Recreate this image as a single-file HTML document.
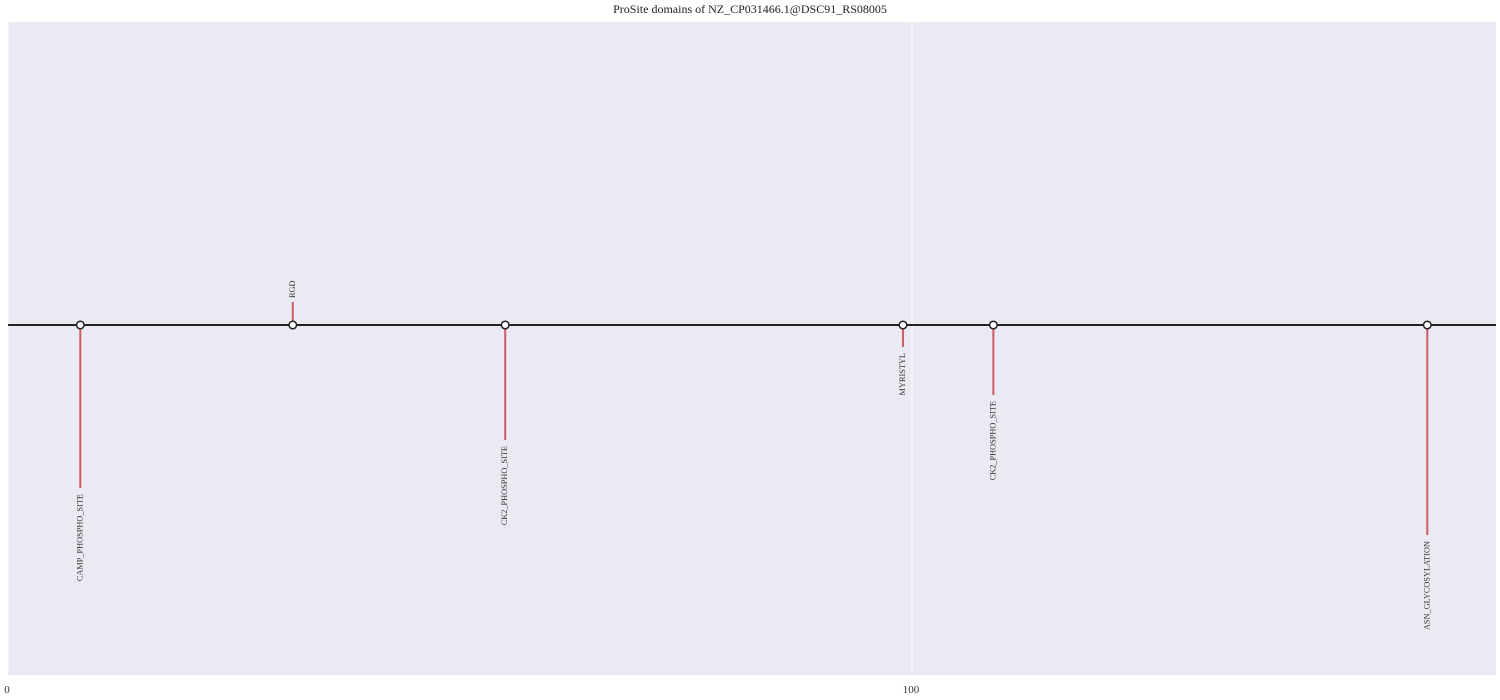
<!DOCTYPE html>
<html><head><meta charset="utf-8"><style>
html,body{margin:0;padding:0;background:#fff;}
svg{display:block;font-family:"Liberation Serif",serif;}
</style></head><body>
<svg id="chart" width="1500" height="700">
<rect x="8" y="22" width="1488" height="653" fill="#eaeaf2"/>
<text x="750" y="13" text-anchor="middle" font-size="12" fill="#222">ProSite domains of NZ_CP031466.1@DSC91_RS08005</text>
<g id="grid"></g><g id="axis"></g><g id="marks"></g>
</svg>
<script>
const labels = ["CAMP_PHOSPHO_SITE","RGD","CK2_PHOSPHO_SITE","MYRISTYL","CK2_PHOSPHO_SITE","ASN_GLYCOSYLATION"];
const positions = [8, 31.5, 55, 99, 109, 157];
const heights = [-163, 23, -115, -22, -70, -210];
const xTicks = [0, 100];
const xMin = 0, xMax = 164.6;
const L = 8, R = 1496, base = 325;
const NS = "http://www.w3.org/2000/svg";
function xs(v){ return L + (v - xMin) / (xMax - xMin) * (R - L); }
function ys(v){ return base - v; }
function mk(tag, attrs, parent){ const e = document.createElementNS(NS, tag); for (const k in attrs) e.setAttribute(k, attrs[k]); parent.appendChild(e); return e; }
const grid = document.getElementById('grid'), axis = document.getElementById('axis'), marks = document.getElementById('marks');
xTicks.forEach(t => {
  const g = mk('line', {x1: xs(t), x2: xs(t), y1: 22, y2: 675, stroke: '#fff', 'stroke-width': 1}, grid);
  
  
  const tx = mk('text', {x: xs(t) - 1, y: 693, 'text-anchor': 'middle', 'font-size': 11, fill: '#333'}, axis);
  tx.textContent = t;
  
  
});
const bl = mk('line', {x1: L, x2: R, y1: base, y2: base, stroke: '#222', 'stroke-width': 2}, marks);


positions.forEach((p, i) => {
  const x = xs(p), y = ys(heights[i]);
  const s = mk('line', {x1: x, x2: x, y1: base, y2: y, stroke: '#cd5c63', 'stroke-width': 2}, marks);
  
  
  const c = mk('circle', {cx: x, cy: base, r: 3.8, fill: '#fff', stroke: '#222', 'stroke-width': 1.5}, marks);
  
  
  const down = heights[i] < 0;
  const ty = down ? y + 6 : y - 4;
  const t = mk('text', {x: x + 2, y: ty, transform: `rotate(-90 ${x + 2} ${ty})`, 'text-anchor': down ? 'end' : 'start', 'font-size': 8.3, fill: '#333'}, marks);
  t.textContent = labels[i];
  
  
});
</script>
</body></html>
